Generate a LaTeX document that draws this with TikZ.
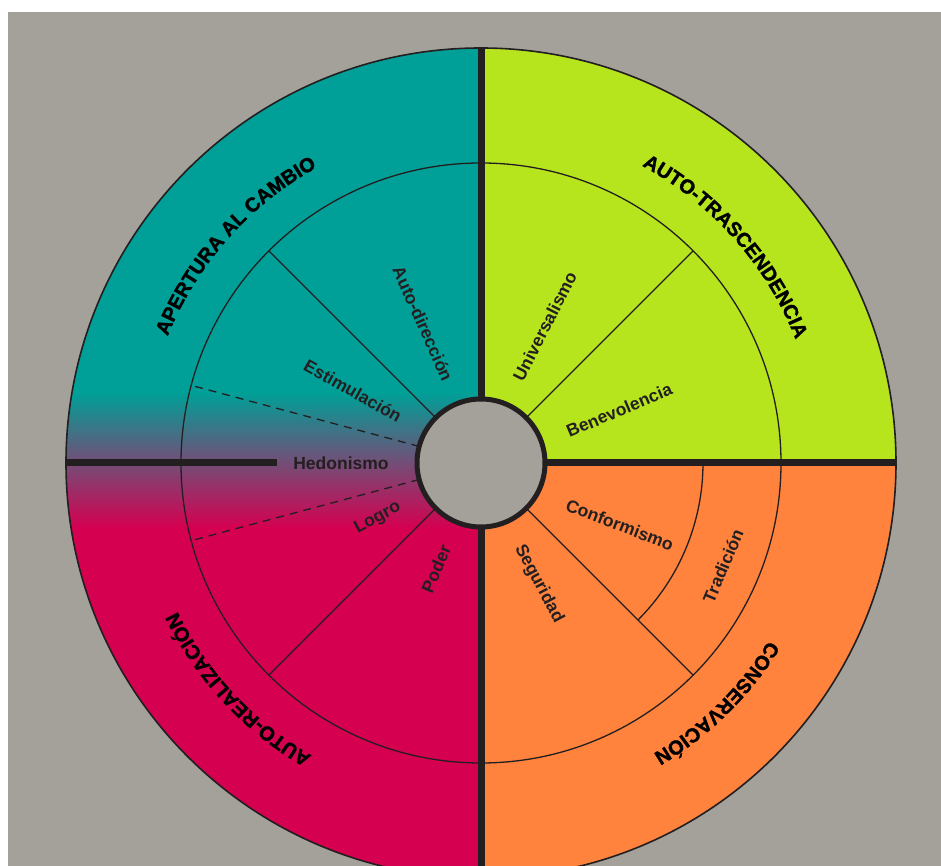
\documentclass[tikz,border=0pt]{standalone}
\usepackage{fontspec}
\setmainfont{Liberation Sans}
\newfontfamily\domainFace{Liberation Sans}[FakeBold=1.5]
\usepackage{tikz}
\usetikzlibrary{decorations.text}
\definecolor{paperColor}{RGB}{163,161,153}
\definecolor{lineColor}{RGB}{35,31,32}
\definecolor{openColor}{RGB}{0,159,151}
\definecolor{transColor}{RGB}{182,229,30}
\definecolor{conserveColor}{RGB}{255,131,61}
\definecolor{enhanceColor}{RGB}{213,0,80}
\definecolor{hedonColor}{RGB}{112,80,120}
\tikzstyle{wheel} = [x = 1pt, y = 1pt]
\tikzstyle{thinLine} = [color=lineColor, line width=1.3pt]
\tikzstyle{dashLine} = [thinLine, dash pattern=on 8pt off 6pt]
\tikzstyle{rimLine} = [color=lineColor, line width=1.6pt]
\tikzstyle{thickLine} = [color=lineColor, line width=7pt]
\tikzstyle{hubStyle} = [color=lineColor, fill=paperColor, line width=5pt]
\tikzstyle{valueText} = [font=\bfseries\fontsize{17.5}{19}\selectfont, text=lineColor, inner sep=0pt]
\newcommand{\domainFont}{\domainFace\bfseries\fontsize{20}{22}\selectfont}
\newcommand{\hubR}{64}
\newcommand{\ringR}{300}
\newcommand{\rimR}{415}
\newcommand{\quadrant}[2]{\fill [#2] (0,0) -- (#1:\rimR) arc (#1:#1+90:\rimR) -- cycle;}
\newcommand{\spoke}[2]{\draw [#2] (#1:\hubR) -- (#1:\ringR);}
\newcommand{\valueLabel}[5]{\node [valueText, rotate=#4] (#5) at (#1:#2) {#3};}
\newcommand{\domainLabel}[4]{\path [decorate, decoration={text along path, text align=center, text={|\domainFont|#4}}] (#1:#3) arc (#1:#2:#3);}

\begin{document}
\begin{tikzpicture}[wheel]
  \useasboundingbox (-481,463) rectangle (460,-403);
  \fill [white] (-481,463) rectangle (460,-403);
  \fill [paperColor] (-473,451) rectangle (460,-403);

  % four domains
  \quadrant{0}{transColor}
  \quadrant{90}{openColor}
  \quadrant{180}{enhanceColor}
  \quadrant{270}{conserveColor}
  \begin{scope}
    \clip (90:\rimR) arc (90:270:\rimR) -- cycle;
    \shade [top color=openColor, bottom color=enhanceColor, middle color=hedonColor] (-\rimR,70) rectangle (0,-65);
  \end{scope}

  % values
  \draw [thinLine] (0,0) circle (\ringR);
  \foreach \angle in {45,135,225,315} {
    \spoke{\angle}{thinLine}
  }
  \foreach \angle in {165,195} {
    \spoke{\angle}{dashLine}
  }
  \draw [thinLine] (0:222) arc (0:-45:222);
  \draw [rimLine] (0,0) circle (\rimR);
  \draw [thickLine] (90:\rimR) -- (270:\rimR);
  \draw [thickLine] (0,0) -- (0:\rimR);
  \draw [thickLine] (180:\rimR) -- (180:204);
  \filldraw [hubStyle] (0,0) circle (\hubR);

  \valueLabel{180}{140}{Hedonismo}{0}{hedonismo}
  \valueLabel{150.6}{147}{Estimulación}{-29.5}{estimulacion}
  \valueLabel{112.6}{151}{Auto-dirección}{-66}{autodireccion}
  \valueLabel{65}{151}{Universalismo}{63}{universalismo}
  \valueLabel{21}{148}{Benevolencia}{23}{benevolencia}
  \valueLabel{-24}{152}{Conformismo}{-21}{conformismo}
  \valueLabel{-23}{263}{Tradición}{67}{tradicion}
  \valueLabel{-64.4}{134}{Seguridad}{-62}{seguridad}
  \valueLabel{208}{117}{Logro}{28}{logro}
  \valueLabel{247}{115}{Poder}{67}{poder}

  \domainLabel{175}{102}{338}{APERTURA AL CAMBIO}
  \domainLabel{78}{5}{338}{AUTO-TRASCENDENCIA}
  \domainLabel{-9}{-82}{338}{CONSERVACIÓN}
  \domainLabel{259.5}{186.5}{338}{AUTO-REALIZACIÓN}
\end{tikzpicture}
\end{document}
